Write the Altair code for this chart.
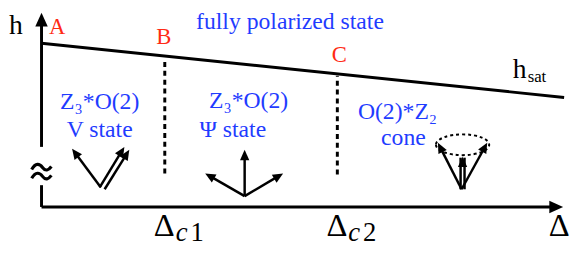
import altair as alt
import pandas as pd
import numpy as np

# ---- schematic frame (Delta in units of Delta_c1, h in units of h_sat(0)) ----
X_DOMAIN = [-0.272, 4.312]
Y_DOMAIN = [-0.283, 1.205]
W, H = 573, 247
PX = W / (X_DOMAIN[1] - X_DOMAIN[0])
PY = H / (Y_DOMAIN[1] - Y_DOMAIN[0])

# ---- axes ----
axis_x0 = [0.0, 0.0, 0.0]
axis_y0 = [0.367, 0.133, 0.0]
axis_x1 = [0.0, 0.0, 4.128]
axis_y1 = [1.108, 0.0, 0.0]
axis_tip_x = [0.0, 4.232]
axis_tip_y = [1.187, 0.0]
axis_tip_angle = [0, 90]
break_x = [0.0]
break_y = [0.211]

# ---- saturation line ----
hsat_x = [0.0, 4.24]
hsat_y = [1.0, 0.669]

# ---- phase boundaries (B, C) ----
delta_c = [1.0, 2.4]
boundary_top = [0.904, 0.801]
boundary_bottom = [0.205, 0.199]

# ---- spin arrows (start -> tip), with head flag ----
arrow_x0 = [0.48, 0.472, 0.512, 1.648, 1.648, 1.648, 3.408, 3.408, 3.40, 3.432]
arrow_y0 = [0.120, 0.120, 0.108, 0.066, 0.066, 0.066, 0.108, 0.108, 0.108, 0.108]
arrow_x1 = [0.248, 0.672, 0.712, 1.648, 1.328, 1.96, 3.216, 3.616, 3.40, 3.432]
arrow_y1 = [0.355, 0.367, 0.349, 0.349, 0.205, 0.205, 0.392, 0.392, 0.301, 0.301]
arrow_head = [True, True, True, True, True, True, True, True, False, False]
center_head_x = [3.416]
center_head_y = [0.307]
cone_x = [3.416]
cone_y = [0.380]

# ---- labels ----
delta_x = [0.996, 2.396, 4.2]
delta_y = [-0.175, -0.175, -0.175]
sub_c_x = [1.088, 2.488]
sub_num_x = [1.208, 2.608]
sub_num = ["1", "2"]
sub_y = [-0.211, -0.211]

point_names = ["A", "B", "C"]
point_x = [0.128, 0.992, 2.416]
point_y = [1.054, 0.994, 0.886]

title_text = ["fully polarized state"]
title_x = [2.016]
title_y = [1.09]

phase_text = ["Z₃*O(2)", "V state", "Z₃*O(2)", "Ψ state", "O(2)*Z₂", "cone"]
phase_x = [0.472, 0.472, 1.68, 1.552, 2.888, 2.936]
phase_y = [0.596, 0.428, 0.602, 0.428, 0.536, 0.380]

BLUE = "#1f3cff"
RED = "#ff2a14"
FONT = "'Liberation Serif', 'DejaVu Serif', 'Noto Serif', 'Times New Roman', Times, serif"

xs = alt.Scale(domain=X_DOMAIN, nice=False, zero=False)
ys = alt.Scale(domain=Y_DOMAIN, nice=False, zero=False)
X = lambda f: alt.X(f, type="quantitative", scale=xs, axis=None)
Y = lambda f: alt.Y(f, type="quantitative", scale=ys, axis=None)

HEAD = "M0,0L-0.9,2L0.9,2Z"

# axes
axes_df = pd.DataFrame({"x": axis_x0, "y": axis_y0, "x2": axis_x1, "y2": axis_y1})
axes = alt.Chart(axes_df).mark_rule(color="black", strokeWidth=3).encode(
    x=X("x"), y=Y("y"), x2="x2", y2="y2")
tips_df = pd.DataFrame({"x": axis_tip_x, "y": axis_tip_y, "a": axis_tip_angle})
tips = alt.Chart(tips_df).mark_point(shape=HEAD, filled=True, color="black", opacity=1, size=196).encode(
    x=X("x"), y=Y("y"), angle=alt.Angle("a:Q", scale=None))
brk = alt.Chart(pd.DataFrame({"x": break_x, "y": break_y})).mark_point(
    shape="M-1,-0.3 C-0.6,-1.0 -0.2,-0.9 0.1,-0.5 S0.7,-0.2 1,-0.6 M-1,0.6 C-0.6,-0.1 -0.2,0.0 0.1,0.4 S0.7,0.7 1,0.3",
    filled=False, color="black", opacity=1, size=400, strokeWidth=3.2).encode(x=X("x"), y=Y("y"))

# hsat line
hsat = alt.Chart(pd.DataFrame({"x": [hsat_x[0]], "y": [hsat_y[0]], "x2": [hsat_x[1]], "y2": [hsat_y[1]]})).mark_rule(
    color="black", strokeWidth=3).encode(x=X("x"), y=Y("y"), x2="x2", y2="y2")

# boundaries
bnd = alt.Chart(pd.DataFrame({"x": delta_c, "y": boundary_bottom, "y2": boundary_top})).mark_rule(
    color="black", strokeWidth=3, strokeDash=[5, 4]).encode(x=X("x"), y=Y("y"), y2="y2")

# arrows
ad = pd.DataFrame({"x0": arrow_x0, "y0": arrow_y0, "x1": arrow_x1, "y1": arrow_y1, "head": arrow_head})
dxp = (ad.x1 - ad.x0) * PX
dyp = -(ad.y1 - ad.y0) * PY
L = np.hypot(dxp, dyp)
shorten = np.where(ad["head"], 6.0, 0.0)
ad["xe"] = ad.x1 - (dxp / L * shorten) / PX
ad["ye"] = ad.y1 + (dyp / L * shorten) / PY
ad["angle"] = (np.degrees(np.arctan2(dxp, -dyp)) + 360) % 360
shafts = alt.Chart(ad).mark_rule(color="black", strokeWidth=2.5).encode(
    x=X("x0"), y=Y("y0"), x2="xe", y2="ye")
heads_df = pd.concat([
    ad[ad["head"]][["x1", "y1", "angle"]],
    pd.DataFrame({"x1": center_head_x, "y1": center_head_y, "angle": [0.0]})])
heads = alt.Chart(heads_df).mark_point(shape=HEAD, filled=True, color="black", opacity=1, size=110).encode(
    x=X("x1"), y=Y("y1"), angle=alt.Angle("angle:Q", scale=None))
cone = alt.Chart(pd.DataFrame({"x": cone_x, "y": cone_y})).mark_point(
    shape="M-1,0 A1,0.39 0 1,0 1,0 A1,0.39 0 1,0 -1,0", filled=False, color="black", opacity=1,
    size=2916, strokeWidth=2, strokeDash=[3, 3]).encode(x=X("x"), y=Y("y"))

# texts
def txt(df, **kw):
    base = dict(font=FONT, baseline="alphabetic", align="center")
    base.update(kw)
    return alt.Chart(df).mark_text(**base).encode(x=X("x"), y=Y("y"), text="t:N")

t_delta = txt(pd.DataFrame({"x": delta_x, "y": delta_y, "t": ["Δ"] * 3}), fontSize=33, color="black")
t_c = txt(pd.DataFrame({"x": sub_c_x, "y": sub_y, "t": ["c", "c"]}), fontSize=27, fontStyle="italic",
          align="left", color="black")
t_num = txt(pd.DataFrame({"x": sub_num_x, "y": sub_y, "t": sub_num}), fontSize=27, align="left", color="black")
t_h = txt(pd.DataFrame({"x": [-0.208, 3.88], "y": [1.054, 0.789], "t": ["h", "h"]}), fontSize=28, color="black")
t_sat = txt(pd.DataFrame({"x": [3.944], "y": [0.765], "t": ["sat"]}), fontSize=17, align="left", color="black")
t_pts = txt(pd.DataFrame({"x": point_x, "y": point_y, "t": point_names}), fontSize=23, color=RED)
t_title = txt(pd.DataFrame({"x": title_x, "y": title_y, "t": title_text}), fontSize=24, color=BLUE)
t_phase = txt(pd.DataFrame({"x": phase_x, "y": phase_y, "t": phase_text}), fontSize=24, color=BLUE)

chart = alt.layer(axes, tips, brk, hsat, bnd, shafts, heads, cone,
                  t_delta, t_c, t_num, t_h, t_sat, t_pts, t_title, t_phase).properties(
    width=W, height=H, autosize=alt.AutoSizeParams(type="none"), padding=0
).configure_view(stroke=None)

chart.save("out.html", embed_options={"renderer": "svg", "actions": False})
